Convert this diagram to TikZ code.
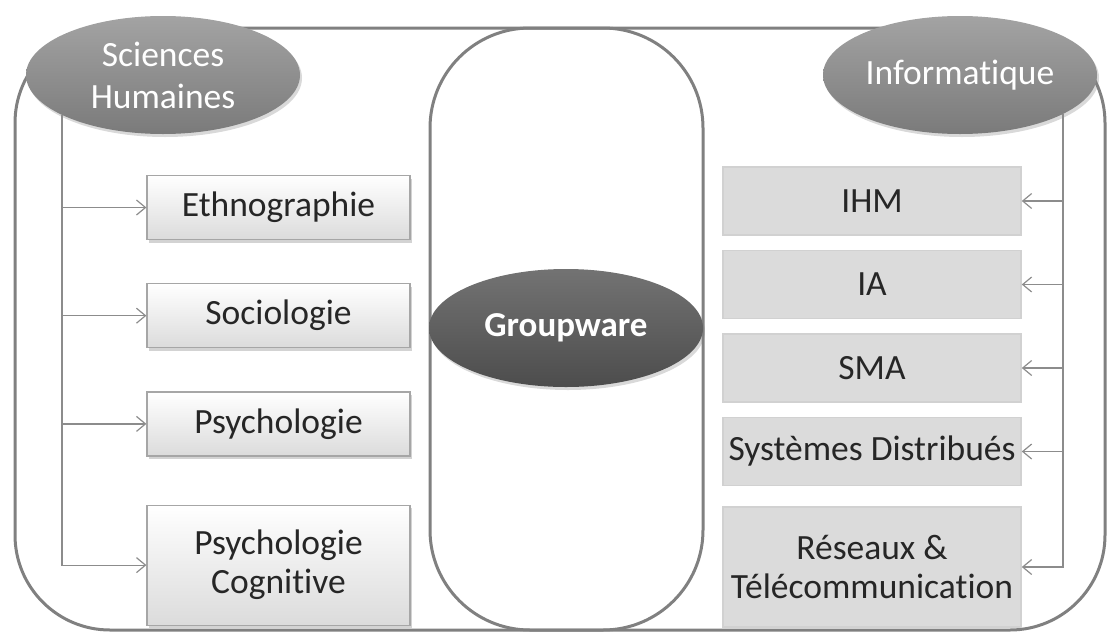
\documentclass[tikz,border=0pt]{standalone}
\usepackage{fontspec}
\setmainfont[Ligatures=NoCommon]{Carlito}
\usetikzlibrary{arrows.meta, positioning, shapes.geometric, shadows}

\begin{document}
\begin{tikzpicture}[
            x = 1pt, y = -1pt, % pixel units, y going down
            > = {Straight Barb[length=9pt, width=15pt]}, % arrow head style
            node distance = 43pt, % distance between boxes
            line width = 1.2pt % line style
        ]

        \tikzstyle{frame}=[
            draw = black!50,
            line width = 3pt
        ]

        \tikzstyle{field}=[
            ellipse,
            top color = black!36,
            bottom color = black!52,
            text = white,
            minimum width = 274pt,
            minimum height = 118pt,
            inner sep = 0pt,
            align = center,
            drop shadow = {shadow xshift=2pt, shadow yshift=-3pt, opacity=.3},
            font = \fontsize{35.5pt}{42pt}\selectfont
        ]

        \tikzstyle{core}=[
            field,
            top color = black!55,
            bottom color = black!70,
            font = \fontsize{35pt}{42pt}\selectfont\bfseries
        ]

        \tikzstyle{leftbox}=[
            rectangle,
            draw = black!35,
            top color = white,
            bottom color = black!14,
            drop shadow = {shadow xshift=2pt, shadow yshift=-3pt, opacity=.35},
            minimum width = 263pt,
            minimum height = 64pt,
            text = black!85,
            align = center,
            font = \fontsize{35.5pt}{39pt}\selectfont
        ]

        \tikzstyle{rightbox}=[
            rectangle,
            draw = black!18,
            line width = 1.5pt,
            fill = black!14,
            minimum width = 298pt,
            minimum height = 68pt,
            text = black!85,
            align = center,
            font = \fontsize{35.5pt}{39pt}\selectfont
        ]

        \tikzstyle{link}=[
            draw = black!45
        ]

        \useasboundingbox (0,0) rectangle (1110,632);

        % outer frame and central column
        \draw[frame, rounded corners=95pt] (15,28) rectangle (1105,630);
        \draw[frame, rounded corners=100pt] (430,28) rectangle (703,630);

        \node[field] (sh) at (163,75) {Sciences\\Humaines};
        \node[field] (info) at (960,75) {Informatique};
        \node[core] (gw) at (566,328) {Groupware};

        \node[leftbox] (ethno) at (278.5,207.5) {Ethnographie};
        \node[leftbox] (socio) [below=of ethno] {Sociologie};
        \node[leftbox] (psycho) [below=of socio] {Psychologie};
        \node[leftbox, minimum height=120pt] (cogni) [below=48pt of psycho] {Psychologie\\Cognitive};

        \node[rightbox] (ihm) at (872,201) {IHM};
        \node[rightbox] (ia) [below=14pt of ihm] {IA};
        \node[rightbox] (sma) [below=14pt of ia] {SMA};
        \node[rightbox] (sd) [below=14pt of sma] {Systèmes Distribués};
        \node[rightbox, minimum height=120pt] (rt) [below=20pt of sd] {Réseaux \&\\Télécommunication};

        \coordinate (lbus) at (62,115);
        \coordinate (rbus) at (1063,114);

        \path[link, ->] (lbus) |- (cogni.west);
        \foreach \b in {ethno, socio, psycho}
            \path[link, ->] (lbus |- \b.west) -- (\b.west);

        \path[link, ->] (rbus) |- (rt.east);
        \foreach \b in {ihm, ia, sma, sd}
            \path[link, ->] (rbus |- \b.east) -- (\b.east);

  \end{tikzpicture}
\end{document}
